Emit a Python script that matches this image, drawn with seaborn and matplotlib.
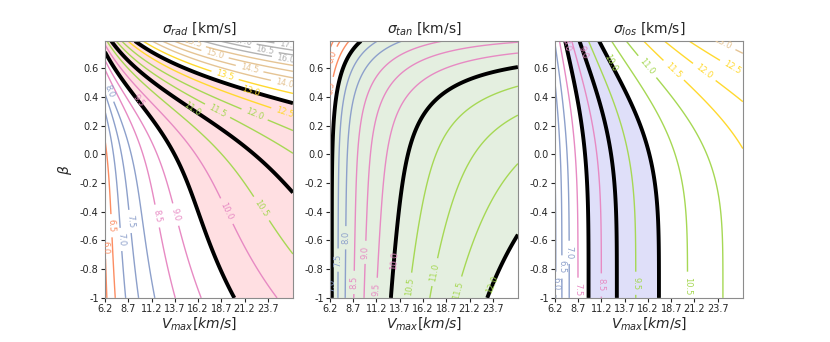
import numpy as np
import matplotlib
matplotlib.use("Agg")
import matplotlib.pyplot as plt
from matplotlib.colors import ListedColormap
import seaborn as sns

# axis ranges and ticks
vmax_range = [6.2, 26.4]
beta_range = [-1.0, 0.79]
vmax_ticks = [6.2, 8.7, 11.2, 13.7, 16.2, 18.7, 21.2, 23.7]
vmax_ticklabels = ["6.2", "8.7", "11.2", "13.7", "16.2", "18.7", "21.2", "23.7"]
beta_ticks = [-1.0, -0.8, -0.6, -0.4, -0.2, 0.0, 0.2, 0.4, 0.6]
beta_ticklabels = ["-1", "-0.8", "-0.6", "-0.4", "-0.2", "0.0", "0.2", "0.4", "0.6"]

titles = [r"$\sigma_{rad}$ [km/s]", r"$\sigma_{tan}$ [km/s]", r"$\sigma_{los}$ [km/s]"]

# contour levels (km/s) and the colour range of each panel
levels_rad = np.arange(3.0, 17.6, 0.5)
levels_tan = np.arange(3.0, 17.6, 0.5)
levels_los = np.arange(2.0, 16.6, 0.5)
crange_rad = [3.0, 17.5]
crange_tan = [3.0, 17.5]
crange_los = [2.0, 16.5]

# observed dispersion (low, central, high) -> black lines
obs_rad = [9.5, 11.0, 13.0]
obs_tan = [7.0, 10.0, 12.0]
obs_los = [8.0, 9.0, 10.0]

fill_rad = "#ffdfe2"
fill_tan = "#e4efe0"
fill_los = "#dfdff9"

# model parameters, x = 1 + beta, L = ln(V / v0):
# sigma^2 = s0^2 (1 + p1 x + p2 x^k) + A (1 + a1 x + a2 x^k) L + c x L^2
# [s0, v0, A, p1, p2, a1, a2, k, c]
par_rad = [6.0, 6.4, 47.4, 0.12, 0.056, 0.28, 0.052, 6, 0.0]
par_tan = [7.0, 6.4, 74.0, 0.0, -0.0125, -0.06, -0.004, 6, -8.0]
par_los = [6.5, 6.95, 63.0, 0.0, 0.04, 0.0, 0.04, 4, 0.0]


def sigma(V, B, par):
    s0, v0, A, p1, p2, a1, a2, k, c = par
    x = 1 + B
    L = np.log(V / v0)
    s2 = s0 ** 2 * (1 + p1 * x + p2 * x ** k) + A * (1 + a1 * x + a2 * x ** k) * L + c * x * L ** 2
    return np.sqrt(np.clip(s2, 0, None))


v = np.linspace(vmax_range[0], vmax_range[1], 300)
b = np.linspace(beta_range[0], beta_range[1], 300)
V, B = np.meshgrid(v, b)

sns.set_style("ticks")
plt.rcParams["font.family"] = ["DejaVu Sans"]
cmap = ListedColormap(sns.color_palette("Set2", 8))

fig, axes = plt.subplots(1, 3, figsize=(8.3, 3.42), dpi=100)
fig.subplots_adjust(left=0.1265, right=0.895, bottom=0.129, top=0.880, wspace=0.197)

panels = [
    (par_rad, levels_rad, crange_rad, obs_rad, fill_rad),
    (par_tan, levels_tan, crange_tan, obs_tan, fill_tan),
    (par_los, levels_los, crange_los, obs_los, fill_los),
]

for i, (par, lev, cr, obs, fc) in enumerate(panels):
    ax = axes[i]
    Z = sigma(V, B, par)
    ax.contourf(V, B, Z, levels=[obs[0], obs[2]], colors=[fc])
    cs = ax.contour(V, B, Z, levels=lev, cmap=cmap, vmin=cr[0], vmax=cr[1], linewidths=1.0)
    ax.contour(V, B, Z, levels=obs, colors="k", linewidths=2.8)
    ax.clabel(cs, fmt="%.1f", fontsize=6, inline=True)
    ax.set_xlim(vmax_range)
    ax.set_ylim(beta_range)
    ax.set_xticks(vmax_ticks)
    ax.set_xticklabels(vmax_ticklabels, fontsize=7)
    ax.set_yticks(beta_ticks)
    ax.set_yticklabels(beta_ticklabels, fontsize=7)
    ax.set_title(titles[i], fontsize=10)
    ax.set_xlabel(r"$V_{max} [km/s]$", fontsize=10, labelpad=1)
    for s in ax.spines.values():
        s.set_color("0.55")
        s.set_linewidth(0.8)
    ax.tick_params(length=3, width=0.8, pad=1.5)

axes[0].set_ylabel(r"$\beta$", fontsize=10)

fig.savefig("out.png", dpi=100)
